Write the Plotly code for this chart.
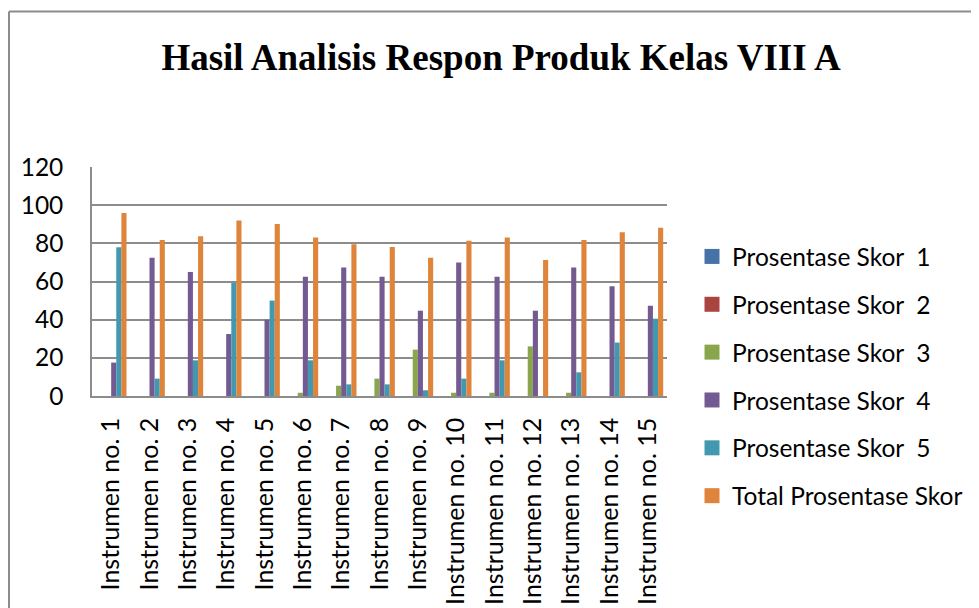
import plotly.graph_objects as go

categories = [f"Instrumen no. {i}" for i in range(1, 16)]

skor1 = [0] * 15
skor2 = [0] * 15
skor3 = [0, 0, 0, 0, 0, 1.7, 5.4, 9.1, 24.3, 1.7, 1.7, 26.0, 1.7, 0, 0]
skor4 = [17.5, 72.5, 65.0, 32.5, 40.0, 62.5, 67.4, 62.5, 44.7, 70.0, 62.5, 44.7, 67.4, 57.5, 47.3]
skor5 = [77.9, 9.1, 18.7, 59.2, 50.0, 18.7, 6.1, 6.1, 3.0, 9.1, 18.7, 0, 12.4, 28.0, 40.5]
total = [95.9, 81.7, 83.7, 91.9, 90.1, 83.1, 79.5, 78.1, 72.5, 81.4, 83.1, 71.3, 81.7, 85.8, 88.2]

series_names = ["Prosentase Skor  1", "Prosentase Skor  2", "Prosentase Skor  3",
                "Prosentase Skor  4", "Prosentase Skor  5", "Total Prosentase Skor"]
series_values = [skor1, skor2, skor3, skor4, skor5, total]
colors = ["#4672A8", "#A9443F", "#8AA64C", "#735A91", "#4299AF", "#DF843B"]

yticks = [0, 20, 40, 60, 80, 100, 120]

fig = go.Figure()
for i, (name, vals, col) in enumerate(zip(series_names, series_values, colors)):
    fig.add_trace(go.Bar(
        x=categories, y=vals, name=name, legendgroup=f"g{i}", showlegend=False,
        marker=dict(color=col, line=dict(width=0)),
    ))
# legend entries (larger square swatches, as in the reference)
for i, (name, col) in enumerate(zip(series_names, colors)):
    fig.add_trace(go.Scatter(
        x=[None], y=[None], mode="markers", name=name, legendgroup=f"g{i}",
        marker=dict(symbol="square", size=15, color=col, line=dict(width=0)),
        hoverinfo="skip",
    ))

font_main = "Lato, Carlito, Calibri, sans-serif"

# figure is placed at (8,8) by the page body margin -> compensate
W, H = 971, 600
L, R, T, B = 84, 659, 159, 388   # plot area in figure pixels
PW, PH = R - L, B - T

def px_x(x):
    return (x - L) / PW

def px_y(y):
    return (B - y) / PH

fig.update_layout(
    width=W, height=H,
    margin=dict(l=L, r=W - R, t=T, b=H - B),
    paper_bgcolor="white", plot_bgcolor="white",
    barmode="group", bargap=0.2, bargroupgap=0,
    title=dict(text="<b>Hasil Analisis Respon Produk Kelas VIII A</b>",
               font=dict(family="Liberation Serif, Times New Roman, serif", size=37, color="black"),
               x=493 / W, xref="container", xanchor="center",
               y=1 - 49 / H, yref="container", yanchor="middle"),
    legend=dict(x=684 / W, xref="container", xanchor="left",
                y=1 - 226 / H, yref="container", yanchor="top",
                font=dict(family=font_main, size=24.5, color="black"),
                traceorder="grouped", tracegroupgap=13,
                itemwidth=30, bgcolor="rgba(0,0,0,0)"),
    showlegend=True,
    font=dict(family=font_main, color="black"),
)
try:
    fig.update_layout(legend_maxheight=400)
except Exception:
    pass

fig.update_yaxes(range=[0, 120], tickvals=yticks, showgrid=True,
                 gridcolor="#8c8c8c", gridwidth=1.5,
                 showline=True, linecolor="#8c8c8c", linewidth=1.5,
                 ticks="", ticklabelstandoff=22, automargin=False,
                 tickfont=dict(family=font_main, size=24.5, color="black"),
                 zeroline=False, fixedrange=True)
fig.update_xaxes(showline=True, linecolor="#8c8c8c", linewidth=1.5,
                 tickangle=-90, ticks="", ticklabelstandoff=10, automargin=False,
                 tickfont=dict(family=font_main, size=25, color="black"),
                 fixedrange=True)

# outer chart border (left and top edges visible in the reference)
fig.add_shape(type="line", xref="paper", yref="paper",
              x0=px_x(1), x1=px_x(1), y0=px_y(3.5), y1=px_y(H + 10),
              line=dict(color="#8c8c8c", width=2))
fig.add_shape(type="line", xref="paper", yref="paper",
              x0=px_x(1), x1=px_x(W + 10), y0=px_y(3.5), y1=px_y(3.5),
              line=dict(color="#8c8c8c", width=2))

fig.write_html("out.html")
